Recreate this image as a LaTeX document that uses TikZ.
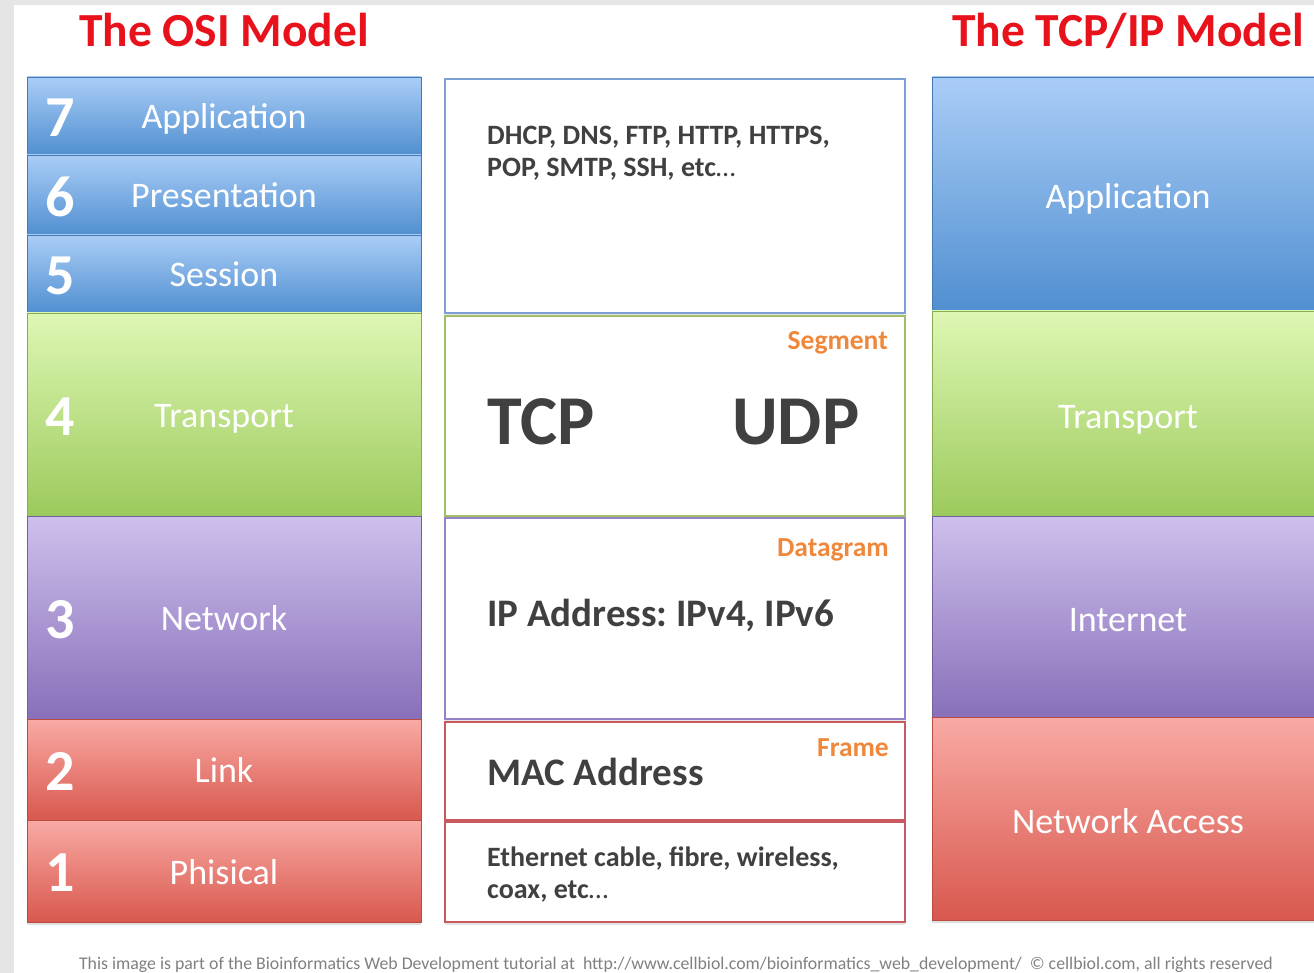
\documentclass[tikz,border=0pt]{standalone}
\usepackage{fontspec}
\setmainfont{Carlito}
\usetikzlibrary{shadows}
\frenchspacing
\definecolor{titlered}{RGB}{232,18,28}
\definecolor{pduorange}{RGB}{240,136,60}
\definecolor{txtgray}{RGB}{64,64,64}
\definecolor{blueA}{RGB}{170,205,247}
\definecolor{blueB}{RGB}{80,143,208}
\definecolor{greenA}{RGB}{222,247,180}
\definecolor{greenB}{RGB}{156,202,92}
\definecolor{purpA}{RGB}{206,192,236}
\definecolor{purpB}{RGB}{136,112,186}
\definecolor{redA}{RGB}{249,170,164}
\definecolor{redB}{RGB}{216,88,78}
\definecolor{lineblue}{RGB}{125,160,212}
\definecolor{linegreen}{RGB}{160,190,100}
\definecolor{linepurp}{RGB}{150,130,200}
\definecolor{linered}{RGB}{200,90,95}
\tikzset{
  layer/.style 2 args={top color=#1, bottom color=#2, draw=#2!85!black, line width=0.8pt,
    drop shadow={shadow xshift=0pt, shadow yshift=-3pt, opacity=0.25}},
  pbox/.style={draw=#1, line width=1.6pt, fill=white,
    drop shadow={shadow xshift=0pt, shadow yshift=-3pt, opacity=0.2}},
  numtext/.style={font=\fontsize{58}{58}\selectfont\bfseries, text=white, inner sep=0pt},
  laytext/.style={font=\fontsize{36}{36}\selectfont, text=white, inner sep=0pt, anchor=base},
  title/.style={font=\fontsize{47.5}{48}\selectfont\bfseries, text=titlered, inner sep=0pt, anchor=base},
  proto/.style={font=\fontsize{28}{32}\selectfont\bfseries, text=txtgray, inner sep=0pt, anchor=base west, align=left},
  bigproto/.style={font=\fontsize{39}{39}\selectfont\bfseries, text=txtgray, inner sep=0pt, anchor=base west},
  hugeproto/.style={font=\fontsize{70}{70}\selectfont\bfseries, text=txtgray, inner sep=0pt, anchor=base west},
  pdu/.style={font=\fontsize{27.5}{28}\selectfont\bfseries, text=pduorange, inner sep=0pt, anchor=base east},
}

\begin{document}
\begin{tikzpicture}[x=1pt,y=-1pt]
  \useasboundingbox (0,0) rectangle (1314,973);
  \clip (0,0) rectangle (1314,973);
  % background
  \fill[black!10] (0,0) rectangle (1314,973);
  \fill[white] (14,5) rectangle (1314,973);

  % titles
  \node[title] (osititle) at (224,47) {The OSI Model};
  \node[title] (tcptitle) at (1128,47) {The TCP/IP Model};

  % OSI layers
  \foreach \ya/\yb/\num/\name/\ca/\cb in {77/155/7/Application/blueA/blueB,
      155/235/6/Presentation/blueA/blueB, 235/313/5/Session/blueA/blueB,
      313/516/4/Transport/greenA/greenB, 516/719/3/Network/purpA/purpB,
      719/820/2/Link/redA/redB, 820/922/1/Phisical/redA/redB} {
    \shade[layer={\ca}{\cb}] (27,\ya) rectangle (421,\yb);
    \node[numtext] (num\num) at (60,{(\ya+\yb)/2+2}) {\num};
    \node[laytext] (osi\num) at (224,{(\ya+\yb)/2+13}) {\name};
  }

  % protocol boxes
  \draw[pbox=lineblue] (445,79) rectangle (905,313);
  \draw[pbox=linegreen] (445,316) rectangle (905,516);
  \draw[pbox=linepurp] (445,518) rectangle (905,719);
  \draw[pbox=linered] (445,722) rectangle (905,820);
  \draw[pbox=linered] (445,822) rectangle (905,922);

  \node[proto] (appproto) at (487,177)
    {DHCP, DNS, FTP, HTTP, HTTPS,\\POP, SMTP, SSH, etc{\mdseries\ldots}};
  \node[pdu] (segment) at (888,350) {Segment};
  \node[hugeproto] (tcp) at (487,444) {TCP};
  \node[hugeproto] (udp) at (732,444) {UDP};
  \node[pdu] (datagram) at (889,556) {Datagram};
  \node[bigproto] (ipaddr) at (487,626) {IP Address: IPv4, IPv6};
  \node[pdu] (frame) at (889,756) {Frame};
  \node[bigproto] (macaddr) at (487,785) {MAC Address};
  \node[proto] (media) at (487,898)
    {Ethernet cable, fibre, wireless,\\coax, etc{\mdseries\ldots}};

  % TCP/IP layers
  \shade[layer={blueA}{blueB}] (932,77) rectangle (1340,311);
  \shade[layer={greenA}{greenB}] (932,311) rectangle (1340,516);
  \shade[layer={purpA}{purpB}] (932,516) rectangle (1340,717);
  \shade[layer={redA}{redB}] (932,717) rectangle (1340,920);
  \node[laytext] (tcpapp) at (1128,209) {Application};
  \node[laytext] (tcptrans) at (1128,428) {Transport};
  \node[laytext] (tcpnet) at (1128,631) {Internet};
  \node[laytext] (tcpacc) at (1128,833) {Network Access};

  % footer
  \node[font=\fontsize{17.8}{18}\selectfont, text=black!50, inner sep=0pt, anchor=base] (footer) at (676,969)
    {This image is part of the Bioinformatics Web Development tutorial at\ \ http://www.cellbiol.com/bioinformatics\_web\_development/\ \ © cellbiol.com, all rights reserved};
\end{tikzpicture}
\end{document}
